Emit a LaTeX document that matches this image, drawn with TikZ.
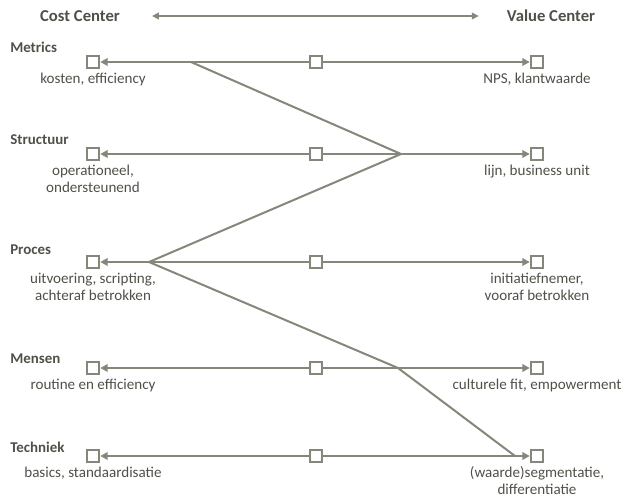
\documentclass[tikz,border=0pt]{standalone}
\usepackage{fontspec}
\setmainfont{Carlito}
\usetikzlibrary{arrows.meta, positioning}
\definecolor{lineGrey}{HTML}{86867B}
\definecolor{textGrey}{HTML}{505049}
\tikzset{
    box/.style={draw=lineGrey, fill=white, line width=1.3pt, minimum size=9.5pt, inner sep=0pt},
    link/.style={draw=lineGrey, line width=1.5pt, -{Triangle[length=5.5pt, width=5.5pt]}},
    zigzag/.style={draw=lineGrey, line width=1.5pt, line join=miter},
    header/.style={font=\fontsize{12.5}{14}\selectfont\bfseries, text=textGrey, inner sep=0pt},
    rowtitle/.style={anchor=west, font=\fontsize{11.2}{13}\selectfont\bfseries, text=textGrey, inner sep=0pt},
    note/.style={align=center, font=\fontsize{11.3}{12.75}\selectfont, text=textGrey, inner sep=0pt}
}
\newcommand{\DimRow}[6]{
    % #1: name, #2: y level, #3: title y, #4: title, #5: left text, #6: right text
    \node[rowtitle] (#1T) at (10, #3) {#4};
    \node[box] (#1L) at (93, #2) {};
    \node[box] (#1M) at (316, #2) {};
    \node[box] (#1R) at (537, #2) {};
    \draw[link] (#1M) -- (#1L);
    \draw[link] (#1M) -- (#1R);
    \node[note, below=2.5pt of #1L] (#1A) {#5};
    \node[note, below=2.5pt of #1R] (#1B) {#6};
}

\begin{document}
\begin{tikzpicture}[x=0.75pt, y=-0.75pt]
    \useasboundingbox (0,0) rectangle (626,499);

    % Scale
    \node[header] (cost) at (80, 16) {Cost Center};
    \node[header] (value) at (551, 16) {Value Center};
    \draw[draw=lineGrey, line width=1pt, {Triangle[length=5pt, width=5pt]}-{Triangle[length=5pt, width=5pt]}, shorten <=24pt, shorten >=21pt] (cost.east) -- (value.west);

    % Zigzag profile (drawn first, rows on top)
    \coordinate (pMet) at (191, 62);
    \coordinate (pStr) at (401, 154);
    \coordinate (pPro) at (149, 262);
    \coordinate (pMen) at (398, 368);
    \coordinate (pTec) at (515, 456);
    \draw[zigzag] (pMet) -- (pStr) -- (pPro) -- (pMen) -- (pTec);

    % Dimensions
    \DimRow{met}{62}{47}{Metrics}{kosten, efficiency}{NPS, klantwaarde}
    \DimRow{str}{154}{140}{Structuur}{operationeel,\\ondersteunend}{lijn, business unit}
    \DimRow{pro}{262}{250}{Proces}{uitvoering, scripting,\\achteraf betrokken}{initiatiefnemer,\\vooraf betrokken}
    \DimRow{men}{368}{359}{Mensen}{routine en efficiency}{culturele fit, empowerment}
    \DimRow{tec}{456}{447}{Techniek}{basics, standaardisatie}{(waarde)segmentatie,\\differentiatie}
\end{tikzpicture}
\end{document}
